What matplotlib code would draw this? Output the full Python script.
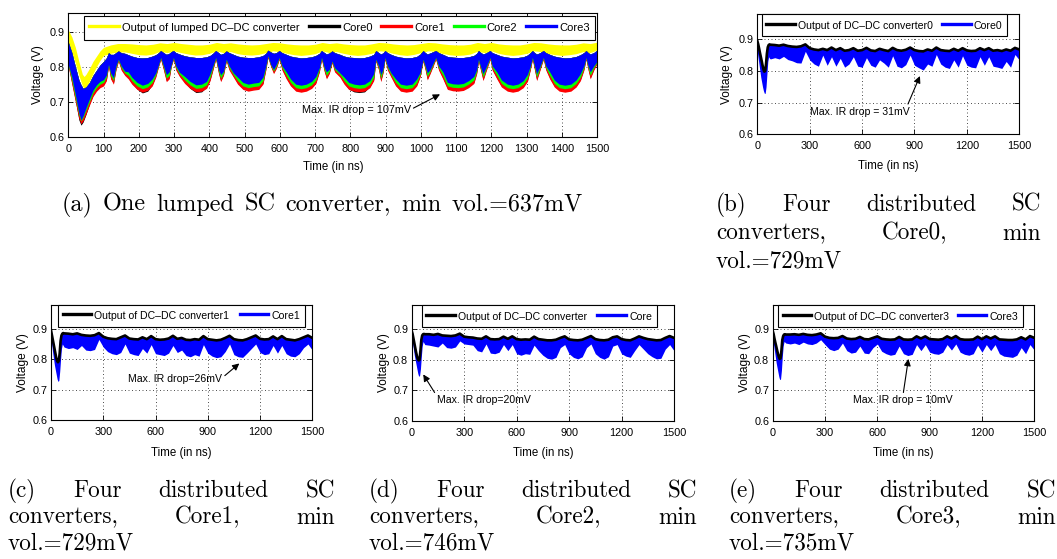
import matplotlib
matplotlib.use("Agg")
import matplotlib.pyplot as plt
from matplotlib.lines import Line2D

W, H = 1057, 559
SANS = ['Liberation Sans Narrow', 'Liberation Sans', 'DejaVu Sans']
plt.rcParams['font.family'] = SANS

# ---------------- data: (a) one lumped converter ----------------
t_y = [0, 5, 10, 20, 30, 40, 45, 50, 60, 70, 80, 90, 100, 120, 140] + list(range(160, 1501, 20))
lumped_hi = [.905, .895, .885, .855, .815, .778, .772, .778, .795, .815, .83, .845, .855, .862, .866,
             .866, .865, .863, .862, .864, .868, .866, .869,
             .866, .864, .862, .862, .864, .869, .866, .868,
             .865, .863, .862, .863, .866, .869, .868, .865,
             .863, .862, .862, .864, .869, .866, .868, .865,
             .863, .862, .862, .865, .869, .868, .865, .863,
             .862, .863, .866, .869, .868, .865, .863, .862,
             .862, .864, .869, .866, .869, .865, .863, .862,
             .862, .865, .869, .868, .865, .863, .862, .862,
             .864, .868, .866, .870]
lumped_lo = [.870, .855, .840, .810, .775, .745, .738, .742, .758, .780, .800, .818, .832, .838, .842,
             .842, .838, .834, .833, .836, .844, .840, .845,
             .840, .836, .833, .834, .838, .845, .840, .843,
             .837, .834, .833, .835, .840, .845, .843, .838,
             .834, .832, .834, .837, .845, .840, .843, .838,
             .834, .832, .834, .838, .845, .844, .838, .834,
             .832, .835, .840, .845, .844, .838, .834, .832,
             .833, .836, .844, .840, .845, .838, .834, .832,
             .834, .838, .845, .843, .838, .834, .832, .834,
             .837, .843, .840, .848]

t_a = [0, 10, 20, 30, 36, 42, 50, 60, 70, 80, 90, 100, 108, 114, 120, 128, 135, 142, 150,
       160, 170, 180, 195, 210, 225, 238, 248, 256, 262, 270, 278, 286, 292, 298, 305,
       315, 330, 345, 362, 378, 392, 402, 410, 418, 426, 432, 440, 448, 456,
       468, 480, 495, 510, 525, 540, 552, 560, 566, 574, 582, 590, 598, 606,
       618, 630, 645, 660, 675, 690, 702, 712, 718, 726, 732, 740, 748, 755,
       770, 782, 795, 810, 825, 840, 855, 866, 872, 880, 886, 892, 898, 905,
       915, 928, 942, 958, 975, 988, 998, 1006, 1012, 1018, 1026, 1042, 1050,
       1062, 1075, 1090, 1105, 1120, 1135, 1150, 1158, 1163, 1170, 1176, 1184, 1196, 1202,
       1215, 1228, 1245, 1260, 1275, 1290, 1302, 1310, 1316, 1322, 1328, 1336, 1347, 1354,
       1365, 1378, 1392, 1408, 1425, 1440, 1452, 1462, 1468, 1474, 1480, 1490, 1500]
core_hi_a = [.87, .84, .80, .762, .748, .738, .742, .755, .775, .79, .805, .815, .825, .84, .835, .835, .84, .845, .84,
             .838, .834, .83, .826, .825, .826, .83, .834, .84, .846, .84, .835, .838, .843, .846, .84,
             .836, .831, .828, .826, .826, .828, .832, .838, .846, .84, .835, .838, .845, .84,
             .835, .83, .827, .826, .826, .828, .832, .838, .847, .842, .838, .84, .846, .84,
             .835, .83, .827, .825, .826, .828, .832, .838, .846, .84, .836, .839, .845, .84,
             .835, .83, .827, .826, .825, .826, .83, .835, .846, .84, .836, .839, .846, .84,
             .835, .83, .827, .825, .826, .829, .836, .846, .84, .836, .839, .846, .84,
             .835, .829, .827, .826, .826, .828, .832, .838, .846, .84, .836, .839, .846, .84,
             .835, .83, .827, .825, .826, .828, .833, .84, .846, .84, .836, .839, .846, .84,
             .835, .83, .827, .825, .826, .829, .834, .84, .846, .84, .836, .84, .848]
core0_lo_a = [.803, .753, .703, .648, .633, .642, .663, .693, .718, .733, .743, .748, .763, .803, .768, .753, .793, .818, .793,
              .778, .768, .753, .736, .725, .73, .748, .773, .803, .823, .793, .76, .768, .803, .823, .793,
              .775, .755, .738, .726, .728, .741, .763, .793, .823, .783, .76, .778, .818, .793,
              .773, .753, .738, .733, .736, .738, .753, .793, .828, .803, .783, .798, .823, .793,
              .768, .748, .733, .73, .733, .741, .755, .788, .823, .788, .768, .783, .813, .788,
              .773, .753, .736, .728, .726, .728, .743, .763, .818, .793, .76, .783, .823, .793,
              .773, .748, .733, .73, .733, .748, .775, .818, .793, .765, .783, .823, .793,
              .768, .738, .734, .733, .735, .743, .755, .783, .818, .788, .763, .788, .823, .793,
              .768, .745, .733, .73, .733, .743, .761, .793, .823, .793, .763, .788, .823, .793,
              .768, .745, .733, .73, .733, .745, .763, .793, .823, .793, .768, .793, .813]
core1_lo_a = [.80, .75, .70, .652, .637, .645, .665, .69, .715, .73, .74, .745, .76, .80, .765, .75, .79, .815, .79,
              .775, .765, .75, .735, .727, .732, .745, .77, .80, .82, .79, .757, .765, .80, .82, .79,
              .772, .752, .738, .728, .73, .738, .76, .79, .82, .78, .757, .775, .815, .79,
              .77, .75, .735, .73, .733, .735, .75, .79, .825, .80, .78, .795, .82, .79,
              .765, .745, .73, .727, .73, .738, .752, .785, .82, .785, .765, .78, .81, .785,
              .77, .75, .735, .73, .728, .73, .74, .76, .815, .79, .757, .78, .82, .79,
              .77, .745, .73, .727, .73, .745, .772, .815, .79, .762, .78, .82, .79,
              .765, .735, .731, .73, .732, .74, .752, .78, .815, .785, .76, .785, .82, .79,
              .765, .742, .73, .727, .73, .74, .758, .79, .82, .79, .76, .785, .82, .79,
              .765, .742, .73, .727, .73, .742, .76, .79, .82, .79, .765, .79, .81]
core2_lo_a = [.804, .76, .71, .662, .645, .655, .675, .70, .725, .74, .75, .755, .77, .804, .775, .76, .797, .819, .797,
              .782, .775, .76, .745, .737, .742, .755, .777, .804, .824, .797, .767, .775, .804, .824, .797,
              .779, .762, .748, .738, .74, .748, .77, .797, .824, .787, .767, .782, .819, .797,
              .777, .76, .745, .74, .743, .745, .76, .797, .829, .804, .787, .802, .824, .797,
              .775, .755, .74, .737, .74, .748, .762, .792, .824, .792, .775, .787, .814, .792,
              .777, .76, .745, .74, .738, .74, .75, .77, .819, .797, .767, .787, .824, .797,
              .777, .755, .74, .737, .74, .755, .779, .819, .797, .772, .787, .824, .797,
              .775, .745, .741, .74, .742, .75, .762, .787, .819, .792, .77, .792, .824, .797,
              .775, .752, .74, .737, .74, .75, .768, .797, .824, .797, .77, .792, .824, .797,
              .775, .752, .74, .737, .74, .752, .77, .797, .824, .797, .775, .797, .814]
core3_lo_a = [.806, .77, .72, .668, .648, .66, .682, .708, .733, .748, .758, .763, .776, .806, .782, .768, .802, .821, .802,
              .787, .785, .77, .755, .747, .752, .765, .782, .806, .826, .802, .777, .785, .806, .826, .802,
              .784, .772, .758, .748, .75, .758, .78, .802, .826, .792, .777, .787, .821, .802,
              .782, .77, .755, .75, .753, .755, .77, .802, .831, .806, .792, .807, .826, .802,
              .785, .765, .75, .747, .75, .758, .772, .797, .826, .797, .785, .792, .816, .797,
              .782, .77, .755, .75, .748, .75, .76, .78, .821, .802, .777, .792, .826, .802,
              .782, .765, .75, .747, .75, .765, .784, .821, .802, .782, .792, .826, .802,
              .785, .755, .751, .75, .752, .76, .772, .792, .821, .797, .78, .797, .826, .802,
              .785, .762, .75, .747, .75, .76, .778, .802, .826, .802, .78, .797, .826, .802,
              .785, .762, .75, .747, .75, .762, .78, .802, .826, .802, .785, .802, .816]

# ---------------- data: (b)-(e) distributed converters ----------------
t_d = [0, 5, 10, 15, 20, 25, 30, 35, 40, 45, 50, 55, 60, 65, 70, 75] + list(range(100, 1501, 25))

conv0 = [.895, .885, .872, .858, .845, .832, .818, .806, .798, .800, .822, .855, .875, .882, .884, .883,
         .882, .880, .883, .879, .877, .876, .878, .884,
         .872, .868, .866, .870, .866, .874, .866, .872,
         .864, .866, .872, .864, .866, .873, .865, .863,
         .870, .866, .863, .873, .866, .864, .867, .874,
         .866, .863, .862, .868, .864, .874, .866, .864,
         .863, .870, .864, .872, .865, .863, .864, .872,
         .866, .872, .864, .866, .863, .868, .864, .873, .868]
core0_lo = [.860, .840, .820, .800, .780, .765, .750, .738, .730, .729, .750, .790, .830, .845, .840, .838,
            .842, .838, .846, .836, .832, .826, .825, .862,
            .835, .822, .815, .850, .818, .845, .815, .840,
            .812, .822, .845, .815, .812, .842, .818, .812,
            .835, .825, .812, .848, .815, .810, .820, .850,
            .818, .810, .803, .822, .815, .852, .822, .812,
            .808, .835, .812, .848, .818, .812, .810, .845,
            .818, .845, .815, .812, .808, .830, .812, .852, .835]

conv1 = [.895, .880, .865, .850, .835, .820, .805, .795, .790, .795, .820, .860, .878, .884, .886, .885,
         .884, .882, .885, .880, .878, .877, .879, .886,
         .874, .869, .867, .866, .872, .878, .868, .866,
         .865, .872, .866, .876, .866, .864, .865, .868,
         .877, .867, .870, .864, .863, .866, .864, .876,
         .866, .864, .862, .864, .870, .877, .866, .863,
         .862, .866, .872, .878, .867, .865, .866, .875,
         .866, .876, .866, .864, .862, .866, .872, .878, .870]
core1_lo = [.870, .845, .820, .800, .780, .765, .750, .735, .727, .730, .760, .800, .835, .850, .845, .840,
            .835, .838, .832, .845, .830, .828, .832, .865,
            .840, .825, .818, .815, .822, .850, .820, .815,
            .812, .835, .820, .848, .818, .815, .812, .820,
            .845, .822, .830, .812, .808, .815, .810, .848,
            .820, .810, .805, .808, .825, .850, .815, .808,
            .806, .820, .835, .850, .822, .815, .818, .845,
            .820, .845, .818, .810, .808, .818, .838, .850, .830]

conv2 = [.895, .885, .870, .855, .840, .825, .812, .802, .798, .800, .830, .865, .880, .884, .885, .884,
         .884, .882, .885, .880, .879, .878, .880, .886,
         .876, .874, .873, .870, .869, .877, .868, .867,
         .868, .876, .869, .877, .868, .866, .867, .866,
         .876, .868, .866, .864, .864, .866, .872, .877,
         .867, .865, .864, .866, .872, .878, .868, .865,
         .864, .866, .874, .877, .868, .865, .864, .870,
         .877, .872, .868, .866, .864, .865, .872, .878, .872]
core2_lo = [.875, .855, .835, .815, .800, .785, .770, .755, .746, .748, .770, .810, .845, .860, .855, .850,
            .848, .845, .842, .855, .840, .838, .842, .862,
            .852, .850, .848, .830, .826, .852, .822, .820,
            .825, .850, .830, .850, .820, .815, .820, .818,
            .848, .830, .815, .805, .802, .808, .840, .850,
            .820, .808, .803, .810, .840, .852, .820, .808,
            .802, .810, .845, .850, .820, .812, .808, .830,
            .850, .835, .820, .810, .803, .805, .835, .850, .830]

conv3 = [.895, .885, .870, .857, .845, .832, .820, .810, .803, .805, .830, .865, .878, .883, .884, .883,
         .883, .884, .882, .885, .882, .881, .883, .887,
         .876, .872, .871, .872, .878, .870, .868, .869,
         .875, .868, .867, .872, .877, .869, .867, .866,
         .867, .875, .867, .866, .867, .877, .870, .877,
         .868, .867, .866, .868, .877, .870, .878, .868,
         .866, .866, .867, .876, .868, .877, .870, .877,
         .867, .866, .865, .865, .867, .874, .867, .878, .872]
core3_lo = [.870, .850, .830, .810, .790, .775, .760, .745, .735, .737, .765, .810, .845, .860, .858, .855,
            .852, .855, .850, .858, .852, .850, .855, .866,
            .850, .835, .830, .835, .855, .830, .822, .825,
            .845, .822, .820, .840, .852, .828, .820, .815,
            .818, .845, .820, .814, .818, .850, .830, .850,
            .825, .820, .818, .825, .850, .832, .852, .825,
            .818, .815, .820, .848, .825, .850, .830, .850,
            .820, .812, .810, .808, .815, .840, .820, .850, .832]

legend_a = ['Output of lumped DC\u2013DC converter', 'Core0', 'Core1', 'Core2', 'Core3']
conv_labels = ['Output of DC\u2013DC converter0', 'Output of DC\u2013DC converter1',
               'Output of DC\u2013DC converter', 'Output of DC\u2013DC converter3']
core_labels = ['Core0', 'Core1', 'Core', 'Core3']
notes = ['Max. IR drop = 107mV', 'Max. IR drop = 31mV', 'Max. IR drop=26mV',
         'Max. IR drop=20mV', 'Max. IR drop = 10mV']

YEL, BLK, RED, GRN, BLU = '#ffff00', '#000000', '#ff0000', '#00ff00', '#0000ff'

fig = plt.figure(figsize=(W / 100, H / 100), dpi=100)


def style(ax, xt, ylim_top, xlp, ylp):
    ax.set_xlim(0, 1500)
    ax.set_ylim(0.6, ylim_top)
    ax.set_xticks(xt)
    ax.set_xticklabels([str(v) for v in xt])
    ax.set_yticks([0.6, 0.7, 0.8, 0.9])
    ax.set_yticklabels(['0.6', '0.7', '0.8', '0.9'])
    ax.tick_params(direction='in', length=3.5, width=0.6, top=True, right=True,
                   labelsize=7.8, pad=2.5)
    ax.tick_params(axis='x', pad=5)
    ax.grid(True, linestyle=(0, (1, 2.6)), linewidth=0.7, color='0.3')
    ax.set_axisbelow(True)
    for s in ax.spines.values():
        s.set_linewidth(0.8)
    ax.set_xlabel('Time (in ns)', fontsize=8.3, labelpad=xlp)
    ax.set_ylabel('Voltage (V)', fontsize=8.6, labelpad=ylp)


def leg(ax, handles, labels, x0, x1, top, fs):
    lg = ax.legend(handles, labels, loc='upper left', bbox_to_anchor=(x0, top, x1 - x0, 0),
                   mode='expand', ncol=len(labels), borderaxespad=0, fontsize=fs,
                   handlelength=2.7, handleheight=1.5, handletextpad=0.3, columnspacing=0.3,
                   borderpad=0.45, fancybox=False, framealpha=1, edgecolor='k')
    lg.get_frame().set_linewidth(0.8)
    return lg


# ---------- (a) ----------
axa = fig.add_axes([68.3 / W, 1 - 136.7 / H, 529 / W, 124 / H])
axa.fill_between(t_y, lumped_lo, lumped_hi, color=YEL, lw=0)
for lo, c in [(core0_lo_a, BLK), (core1_lo_a, RED), (core2_lo_a, GRN), (core3_lo_a, BLU)]:
    axa.fill_between(t_a, lo, core_hi_a, color=c, lw=0)
style(axa, list(range(0, 1501, 100)), 0.954, 5.5, 4)
hs = [Line2D([], [], color=c, lw=2.4) for c in (YEL, BLK, RED, GRN, BLU)]
leg(axa, hs, legend_a, 0.0297, 0.9957, 0.973, 8.0)
axa.annotate(notes[0], xy=(1054, 0.721), xytext=(816, 0.676), fontsize=7.8,
             ha='center', va='center',
             arrowprops=dict(arrowstyle='-|>', color='k', lw=0.8, mutation_scale=10,
                             relpos=(1.0, 0.55), shrinkA=0, shrinkB=0))

# ---------- (b)-(e) ----------
pos = [[757.3, 14.0, 1019.3, 134.3], [51.0, 304.5, 312.3, 420.0],
       [411.7, 305.0, 674.0, 420.7], [772.7, 305.0, 1034.3, 420.7]]
convs = [conv0, conv1, conv2, conv3]
cores = [core0_lo, core1_lo, core2_lo, core3_lo]
leg_x = [(0.0168, 0.954), (0.0268, 0.972), (0.038, 0.934), (0.020, 0.957)]
ann = [((931, 0.784), (585, 0.671), (0.97, 0.9)),
       ((1081, 0.786), (712, 0.735), (1.0, 0.6)),
       ((66, 0.752), (413, 0.667), (0.0, 0.9)),
       ((778, 0.803), (747, 0.667), (0.5, 1.0))]
for i in range(4):
    x0, y0, x1, y1 = pos[i]
    ax = fig.add_axes([x0 / W, 1 - y1 / H, (x1 - x0) / W, (y1 - y0) / H])
    ax.fill_between(t_d, cores[i], convs[i], color=BLU, lw=0)
    ax.plot(t_d, convs[i], color=BLK, lw=1.9)
    if i == 0:
        style(ax, list(range(0, 1501, 300)), 0.98, 6.5, 4)
    else:
        style(ax, list(range(0, 1501, 300)), 0.98, 7.0, 2.5)
    hs = [Line2D([], [], color=BLK, lw=2.4), Line2D([], [], color=BLU, lw=2.4)]
    leg(ax, hs, [conv_labels[i], core_labels[i]], leg_x[i][0], leg_x[i][1], 1.0, 7.6)
    tip, txt, rp = ann[i]
    ax.annotate(notes[i + 1], xy=tip, xytext=txt, fontsize=7.6, ha='center', va='center',
                arrowprops=dict(arrowstyle='-|>', color='k', lw=0.8, mutation_scale=10,
                                relpos=rp, shrinkA=0, shrinkB=0))

# ---------- captions ----------
renderer = fig.canvas.get_renderer()


def line(words, x0, x1, y, size, justify=True):
    ts = [fig.text(0, 1 - y / H, w, fontsize=size, family='cmr10', va='baseline', ha='left')
          for w in words]
    ws = [t.get_window_extent(renderer=renderer).width for t in ts]
    gap = (x1 - x0 - sum(ws)) / (len(ws) - 1) if (justify and len(ws) > 1) else size * 0.45
    x = x0
    for t, w in zip(ts, ws):
        t.set_x(x / W)
        x += w + gap


line(['(a)', 'One', 'lumped', 'SC', 'converter,', 'min', 'vol.=637mV'], 62, 583, 211, 17.4)
caps = [('(b)', 'Core0,', 'vol.=729mV', 716, 1041, 211),
        ('(c)', 'Core1,', 'vol.=729mV', 8, 335, 497),
        ('(d)', 'Core2,', 'vol.=746mV', 369, 697, 497),
        ('(e)', 'Core3,', 'vol.=735mV', 729, 1056, 497)]
for tag, core, vol, x0, x1, y in caps:
    sp = 28.5 if tag == '(b)' else 26.5
    line([tag, 'Four', 'distributed', 'SC'], x0, x1, y, 16.7)
    line(['converters,', core, 'min'], x0, x1, y + sp, 16.7)
    line([vol], x0, x1, y + 2 * sp, 16.7, justify=False)

fig.savefig('out.png', dpi=100)
